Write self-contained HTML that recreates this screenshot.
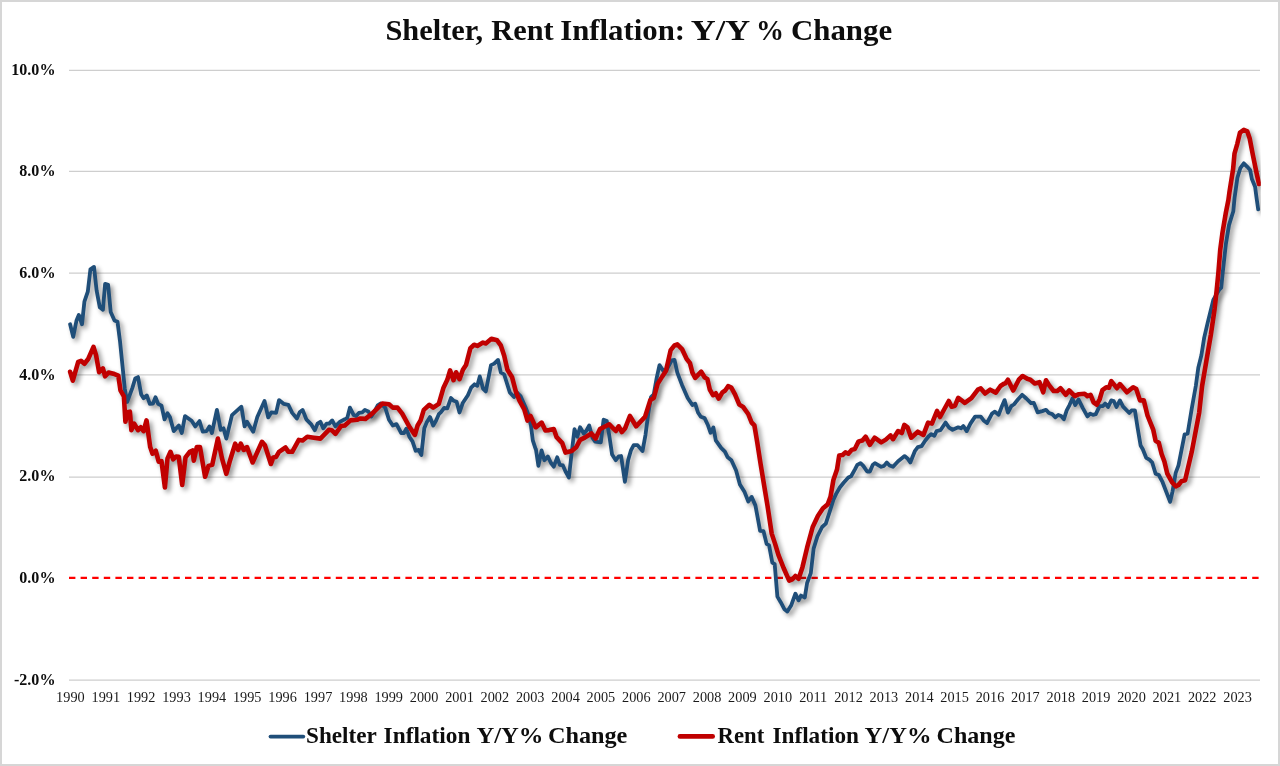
<!DOCTYPE html>
<html><head><meta charset="utf-8"><title>Shelter, Rent Inflation</title>
<style>
html,body{margin:0;padding:0;background:#fff;}
body{width:1280px;height:766px;overflow:hidden;position:relative;font-family:"Liberation Serif",serif;}
#frame{position:absolute;left:0;top:0;width:1276px;height:762px;border:2px solid #d6d6d6;background:#ffffff;}
svg{position:absolute;left:0;top:0;opacity:0.999;}
text{font-family:"Liberation Serif",serif;fill:#0d0d0d;}
.t{font-weight:bold;font-size:29.9px;}
.yl{font-weight:bold;font-size:17.4px;}
.xl{font-size:15.2px;fill:#1a1a1a;}
.lg{font-weight:bold;font-size:23.4px;}
</style></head><body>
<div id="frame"></div>
<svg width="1280" height="766" viewBox="0 0 1280 766">
<defs>
<filter id="sh" x="-5%" y="-5%" width="110%" height="110%">
<feGaussianBlur in="SourceAlpha" stdDeviation="2.5" result="b"/>
<feOffset in="b" dx="2.8" dy="2.8" result="o"/>
<feComponentTransfer in="o" result="s"><feFuncA type="linear" slope="0.42"/></feComponentTransfer>
</filter>
<clipPath id="cp"><rect x="60" y="50" width="1200.8" height="640"/></clipPath>
</defs>
<text class="t" x="385.48" y="40.1" textLength="97.60" lengthAdjust="spacingAndGlyphs">Shelter,</text>
<text class="t" x="491.30" y="40.1" textLength="62.35" lengthAdjust="spacingAndGlyphs">Rent</text>
<text class="t" x="560.17" y="40.1" textLength="124.94" lengthAdjust="spacingAndGlyphs">Inflation:</text>
<text class="t" x="690.80" y="40.1" textLength="59.42" lengthAdjust="spacingAndGlyphs">Y/Y</text>
<text class="t" x="755.99" y="40.1" textLength="27.98" lengthAdjust="spacingAndGlyphs">%</text>
<text class="t" x="790.97" y="40.1" textLength="101.21" lengthAdjust="spacingAndGlyphs">Change</text>
<line x1="69.0" y1="70.3" x2="1260.0" y2="70.3" stroke="#cecece" stroke-width="1.25"/>
<text class="yl" transform="translate(55.5 75.05) scale(0.925 1)" text-anchor="end">10.0%</text>
<line x1="69.0" y1="171.4" x2="1260.0" y2="171.4" stroke="#cecece" stroke-width="1.25"/>
<text class="yl" transform="translate(55.5 176.20) scale(0.925 1)" text-anchor="end">8.0%</text>
<line x1="69.0" y1="273.2" x2="1260.0" y2="273.2" stroke="#cecece" stroke-width="1.25"/>
<text class="yl" transform="translate(55.5 278.00) scale(0.925 1)" text-anchor="end">6.0%</text>
<line x1="69.0" y1="374.9" x2="1260.0" y2="374.9" stroke="#cecece" stroke-width="1.25"/>
<text class="yl" transform="translate(55.5 380.00) scale(0.925 1)" text-anchor="end">4.0%</text>
<line x1="69.0" y1="477.0" x2="1260.0" y2="477.0" stroke="#cecece" stroke-width="1.25"/>
<text class="yl" transform="translate(55.5 481.15) scale(0.925 1)" text-anchor="end">2.0%</text>
<line x1="69.0" y1="577.9" x2="1260.0" y2="577.9" stroke="#ff0000" stroke-width="2.1" stroke-dasharray="6.4 5.2"/>
<text class="yl" transform="translate(55.5 582.80) scale(0.925 1)" text-anchor="end">0.0%</text>
<line x1="69.0" y1="680.0" x2="1260.0" y2="680.0" stroke="#cecece" stroke-width="1.25"/>
<text class="yl" transform="translate(55.5 685.30) scale(0.925 1)" text-anchor="end">-2.0%</text>
<text class="xl" transform="translate(70.4 702.3) scale(0.94 1)" text-anchor="middle">1990</text>
<text class="xl" transform="translate(105.8 702.3) scale(0.94 1)" text-anchor="middle">1991</text>
<text class="xl" transform="translate(141.1 702.3) scale(0.94 1)" text-anchor="middle">1992</text>
<text class="xl" transform="translate(176.5 702.3) scale(0.94 1)" text-anchor="middle">1993</text>
<text class="xl" transform="translate(211.9 702.3) scale(0.94 1)" text-anchor="middle">1994</text>
<text class="xl" transform="translate(247.2 702.3) scale(0.94 1)" text-anchor="middle">1995</text>
<text class="xl" transform="translate(282.6 702.3) scale(0.94 1)" text-anchor="middle">1996</text>
<text class="xl" transform="translate(318.0 702.3) scale(0.94 1)" text-anchor="middle">1997</text>
<text class="xl" transform="translate(353.4 702.3) scale(0.94 1)" text-anchor="middle">1998</text>
<text class="xl" transform="translate(388.7 702.3) scale(0.94 1)" text-anchor="middle">1999</text>
<text class="xl" transform="translate(424.1 702.3) scale(0.94 1)" text-anchor="middle">2000</text>
<text class="xl" transform="translate(459.5 702.3) scale(0.94 1)" text-anchor="middle">2001</text>
<text class="xl" transform="translate(494.8 702.3) scale(0.94 1)" text-anchor="middle">2002</text>
<text class="xl" transform="translate(530.2 702.3) scale(0.94 1)" text-anchor="middle">2003</text>
<text class="xl" transform="translate(565.6 702.3) scale(0.94 1)" text-anchor="middle">2004</text>
<text class="xl" transform="translate(600.9 702.3) scale(0.94 1)" text-anchor="middle">2005</text>
<text class="xl" transform="translate(636.3 702.3) scale(0.94 1)" text-anchor="middle">2006</text>
<text class="xl" transform="translate(671.7 702.3) scale(0.94 1)" text-anchor="middle">2007</text>
<text class="xl" transform="translate(707.1 702.3) scale(0.94 1)" text-anchor="middle">2008</text>
<text class="xl" transform="translate(742.4 702.3) scale(0.94 1)" text-anchor="middle">2009</text>
<text class="xl" transform="translate(777.8 702.3) scale(0.94 1)" text-anchor="middle">2010</text>
<text class="xl" transform="translate(813.2 702.3) scale(0.94 1)" text-anchor="middle">2011</text>
<text class="xl" transform="translate(848.5 702.3) scale(0.94 1)" text-anchor="middle">2012</text>
<text class="xl" transform="translate(883.9 702.3) scale(0.94 1)" text-anchor="middle">2013</text>
<text class="xl" transform="translate(919.3 702.3) scale(0.94 1)" text-anchor="middle">2014</text>
<text class="xl" transform="translate(954.6 702.3) scale(0.94 1)" text-anchor="middle">2015</text>
<text class="xl" transform="translate(990.0 702.3) scale(0.94 1)" text-anchor="middle">2016</text>
<text class="xl" transform="translate(1025.4 702.3) scale(0.94 1)" text-anchor="middle">2017</text>
<text class="xl" transform="translate(1060.8 702.3) scale(0.94 1)" text-anchor="middle">2018</text>
<text class="xl" transform="translate(1096.1 702.3) scale(0.94 1)" text-anchor="middle">2019</text>
<text class="xl" transform="translate(1131.5 702.3) scale(0.94 1)" text-anchor="middle">2020</text>
<text class="xl" transform="translate(1166.9 702.3) scale(0.94 1)" text-anchor="middle">2021</text>
<text class="xl" transform="translate(1202.2 702.3) scale(0.94 1)" text-anchor="middle">2022</text>
<text class="xl" transform="translate(1237.6 702.3) scale(0.94 1)" text-anchor="middle">2023</text>
<g clip-path="url(#cp)">
<defs><path id="pb" d="M70.1 324.3 L73.2 336.9 L76.5 320.5 L78.8 314.9 L82.0 324.3 L84.4 301.7 L87.8 291.7 L90.4 269.4 L94.0 266.9 L96.6 290.4 L99.8 307.3 L102.9 309.8 L105.1 283.8 L108.1 284.8 L110.7 312.0 L114.5 320.5 L117.5 321.8 L120.1 342.1 L124.8 388.8 L127.1 402.0 L132.4 387.9 L135.2 378.5 L138.0 377.1 L141.2 394.4 L143.6 398.2 L146.8 395.4 L149.8 403.8 L153.0 403.5 L155.5 397.3 L158.1 403.8 L161.5 405.7 L164.5 419.3 L167.5 413.2 L169.9 417.0 L173.7 431.1 L178.8 425.5 L181.8 433.0 L185.0 416.1 L191.6 420.8 L195.3 426.4 L199.5 421.1 L202.8 431.7 L206.6 431.1 L209.4 426.4 L211.9 433.0 L216.9 409.9 L220.7 429.8 L223.5 428.3 L226.3 438.6 L232.0 415.1 L241.4 406.7 L244.6 426.4 L247.0 421.7 L253.2 431.7 L257.3 417.0 L264.5 401.0 L268.2 417.4 L271.4 412.3 L276.1 412.9 L279.0 400.1 L283.6 403.8 L288.3 404.8 L292.2 412.9 L296.9 418.5 L299.7 412.3 L302.6 409.9 L306.3 419.3 L311.0 424.1 L314.8 430.2 L317.6 423.6 L320.4 421.7 L323.2 428.3 L326.6 423.6 L329.2 423.6 L332.2 420.4 L335.4 426.4 L340.1 421.7 L344.8 419.3 L347.3 417.9 L349.9 407.6 L353.7 415.1 L356.1 416.1 L358.9 412.9 L362.3 412.3 L364.9 409.9 L368.3 411.4 L371.2 416.6 L374.0 412.3 L377.7 405.3 L380.5 403.5 L385.2 407.6 L389.0 419.8 L392.8 425.5 L396.5 424.1 L401.2 433.0 L404.0 433.0 L406.3 428.7 L409.3 436.7 L412.5 441.4 L415.7 450.8 L418.7 449.9 L421.3 455.0 L424.3 428.3 L426.6 422.6 L430.0 417.0 L433.2 425.5 L436.0 420.8 L438.8 414.2 L441.0 412.1 L444.1 408.0 L447.3 408.4 L451.0 398.0 L453.8 400.8 L456.6 401.8 L459.5 412.5 L462.9 402.7 L467.9 395.2 L471.1 387.7 L474.5 384.3 L477.3 385.8 L479.8 376.4 L483.0 388.6 L485.8 391.4 L491.0 365.1 L494.2 363.6 L498.0 359.9 L500.8 372.3 L504.2 374.5 L509.8 392.4 L514.0 397.1 L516.8 392.4 L520.5 396.1 L525.2 406.5 L528.1 414.0 L530.9 425.3 L532.8 440.3 L535.6 448.8 L536.0 449.8 L538.4 465.8 L541.6 450.4 L544.4 460.2 L547.8 456.4 L551.0 463.0 L553.8 466.7 L557.2 457.3 L559.8 464.9 L562.9 465.4 L566.0 472.4 L568.9 477.5 L571.7 452.6 L574.5 429.1 L577.3 436.7 L580.1 427.3 L583.9 433.8 L586.2 431.0 L589.2 425.4 L592.4 437.6 L595.2 441.7 L600.8 442.3 L603.6 419.7 L606.8 421.1 L609.3 435.7 L612.1 454.5 L615.8 460.2 L618.7 456.4 L621.1 456.0 L624.9 481.8 L628.1 460.2 L630.9 450.4 L633.7 445.1 L637.5 445.1 L642.5 451.1 L645.5 434.8 L648.2 414.0 L651.0 397.1 L653.8 394.3 L656.6 378.3 L659.5 365.1 L663.2 370.8 L666.6 369.8 L671.7 360.4 L674.5 359.9 L677.3 372.6 L682.0 384.9 L687.7 398.0 L692.4 405.0 L695.2 403.7 L698.0 412.5 L700.8 416.8 L704.6 418.1 L708.0 425.3 L710.6 432.8 L713.4 427.5 L715.8 440.3 L721.1 447.9 L724.9 451.7 L727.7 457.3 L731.4 460.2 L736.1 470.5 L739.9 484.6 L744.6 492.1 L748.3 501.5 L751.6 496.9 L755.4 505.4 L758.2 520.4 L760.1 530.8 L763.5 531.1 L766.6 543.9 L769.1 545.4 L772.3 562.7 L774.7 564.2 L777.4 596.6 L780.7 602.2 L784.5 609.3 L787.3 611.6 L791.1 605.6 L795.4 593.7 L798.6 600.3 L801.0 595.6 L804.8 597.5 L807.1 583.0 L810.8 573.1 L813.6 548.6 L817.4 536.4 L822.1 527.0 L825.8 523.6 L829.6 512.0 L833.4 499.7 L836.0 494.1 L839.8 487.5 L843.6 482.8 L848.3 477.5 L851.1 476.2 L854.8 469.6 L857.3 464.9 L860.5 463.1 L863.3 465.9 L867.1 471.5 L869.9 471.5 L872.7 464.9 L874.9 463.1 L881.2 466.8 L884.0 465.9 L886.8 462.5 L889.6 465.5 L893.0 466.8 L898.1 461.2 L904.6 456.1 L907.5 458.4 L910.3 462.5 L915.0 450.8 L917.8 447.1 L921.6 446.1 L925.3 440.5 L928.7 436.2 L931.3 434.1 L934.3 435.8 L936.6 431.1 L940.4 430.2 L945.6 422.6 L948.8 427.3 L952.6 429.8 L958.2 427.3 L961.0 428.3 L963.3 426.0 L966.7 431.1 L970.4 423.6 L975.1 416.6 L980.8 416.6 L983.6 420.4 L987.0 423.0 L992.0 413.6 L994.9 411.7 L998.6 414.7 L1001.4 407.6 L1004.6 400.1 L1007.9 412.6 L1011.3 406.1 L1014.1 404.2 L1017.9 399.5 L1022.2 394.8 L1026.3 398.5 L1031.0 403.2 L1033.8 402.9 L1037.6 412.3 L1042.3 411.1 L1046.0 409.8 L1048.9 413.0 L1052.2 414.1 L1055.4 417.3 L1058.3 414.9 L1061.1 416.0 L1063.9 419.2 L1066.7 410.4 L1069.5 405.1 L1072.4 398.5 L1075.2 405.1 L1078.6 399.5 L1082.7 407.9 L1087.4 416.4 L1090.2 413.6 L1093.0 414.9 L1095.8 414.1 L1099.6 406.1 L1103.0 406.1 L1105.2 403.6 L1108.1 407.0 L1111.3 400.4 L1113.7 401.0 L1116.5 407.0 L1119.9 400.4 L1123.1 406.6 L1129.3 413.0 L1131.6 410.4 L1134.9 410.4 L1137.6 427.7 L1140.6 445.5 L1142.8 449.3 L1146.2 457.8 L1149.4 459.6 L1152.2 462.5 L1155.6 473.7 L1158.8 475.0 L1162.6 482.2 L1170.1 501.9 L1172.5 491.6 L1175.7 472.8 L1178.5 465.3 L1184.6 434.3 L1187.6 433.7 L1191.7 408.9 L1195.8 386.0 L1198.3 367.7 L1201.4 355.2 L1204.2 337.6 L1207.7 322.6 L1213.3 300.0 L1219.0 290.0 L1221.2 287.7 L1222.7 272.7 L1225.9 243.9 L1229.0 225.1 L1233.3 211.3 L1234.6 197.4 L1237.4 177.7 L1240.3 168.2 L1243.8 163.3 L1247.3 166.8 L1250.1 169.9 L1251.9 179.1 L1255.1 186.8 L1256.5 197.4 L1258.2 209.4" fill="none" stroke="#1f4e79" stroke-width="3.8" stroke-linejoin="round" stroke-linecap="round"/>
<path id="pr" d="M70.1 371.8 L72.8 380.7 L78.2 361.9 L81.0 360.9 L84.4 363.7 L88.2 359.0 L93.5 346.8 L96.1 355.3 L99.1 372.2 L102.9 368.4 L105.1 376.3 L108.5 372.6 L114.5 374.1 L118.3 375.6 L120.5 390.3 L123.9 396.3 L125.4 421.7 L127.3 412.3 L129.9 411.7 L131.4 430.2 L134.2 423.6 L138.0 430.2 L140.8 427.3 L143.6 431.1 L146.5 420.4 L150.2 447.1 L152.5 453.7 L155.8 450.8 L158.7 461.7 L161.5 461.2 L164.9 487.5 L167.5 458.4 L170.5 451.8 L173.1 459.3 L176.1 456.5 L178.8 456.9 L182.2 485.0 L185.5 457.4 L189.7 451.8 L192.5 450.5 L193.8 460.6 L196.8 447.1 L200.0 447.1 L205.1 476.8 L208.5 465.9 L212.2 464.9 L217.9 438.6 L222.0 458.4 L226.3 473.8 L230.1 460.2 L235.2 443.7 L238.2 449.9 L240.8 443.7 L243.8 449.9 L247.0 447.1 L252.6 462.5 L262.0 441.8 L264.9 445.2 L270.9 464.0 L273.3 457.4 L276.1 456.9 L279.0 451.8 L285.5 447.5 L288.3 451.8 L292.2 451.8 L298.8 439.9 L302.6 440.5 L307.3 436.7 L313.8 437.7 L320.4 438.6 L328.9 429.8 L331.7 430.2 L335.4 433.9 L341.1 426.0 L344.8 425.5 L350.5 420.4 L357.1 419.8 L359.9 418.5 L365.5 418.9 L372.1 413.6 L382.4 403.5 L389.0 404.2 L392.8 407.6 L397.5 407.6 L402.2 413.6 L409.7 427.3 L414.9 434.9 L417.6 425.5 L420.6 420.4 L423.8 409.9 L429.4 404.8 L433.2 407.6 L438.8 403.8 L443.5 387.7 L447.3 379.8 L450.1 370.4 L453.5 380.2 L456.1 372.3 L459.5 379.2 L462.9 369.8 L466.0 365.1 L470.4 348.2 L474.1 344.8 L477.3 345.9 L483.0 342.6 L485.8 343.5 L491.4 338.8 L497.1 340.3 L500.8 345.4 L504.2 355.7 L507.4 369.8 L512.1 377.3 L515.8 391.4 L519.6 400.8 L524.3 409.3 L527.5 420.6 L530.5 415.9 L535.6 427.2 L536.0 427.3 L541.6 422.6 L545.4 430.5 L549.1 430.1 L553.8 429.1 L556.6 437.2 L562.3 443.2 L565.5 452.6 L571.7 451.1 L576.4 447.0 L580.1 439.9 L584.8 437.6 L591.4 433.5 L595.6 438.5 L599.9 429.1 L605.5 426.3 L609.3 424.4 L615.8 431.0 L618.7 426.3 L621.9 432.0 L625.2 428.2 L629.9 416.0 L636.1 426.3 L645.0 416.9 L650.4 399.9 L653.8 398.0 L657.6 383.9 L662.3 376.4 L666.0 370.8 L670.7 350.1 L674.5 345.4 L677.3 344.4 L682.0 349.1 L686.7 359.1 L689.9 362.9 L692.4 372.6 L695.2 377.9 L701.2 371.7 L704.6 377.3 L707.4 379.2 L709.8 389.6 L713.0 395.2 L715.8 393.3 L718.7 398.6 L722.4 392.4 L725.2 390.5 L728.1 386.2 L731.3 387.7 L735.0 394.3 L739.3 404.6 L743.1 406.9 L748.2 414.0 L751.6 422.5 L754.4 425.3 L757.2 442.2 L760.6 464.0 L767.6 506.3 L771.7 533.6 L775.1 543.9 L778.5 555.2 L783.6 568.0 L789.2 580.6 L792.4 579.3 L795.4 575.9 L798.6 578.7 L802.4 567.4 L807.1 547.7 L812.7 527.0 L818.0 515.7 L823.0 508.2 L827.7 504.4 L830.5 496.9 L833.4 480.0 L837.0 469.6 L839.2 455.5 L842.6 455.0 L845.4 452.3 L848.3 453.7 L851.6 449.9 L854.8 449.0 L858.6 441.4 L862.4 440.5 L865.6 436.7 L869.9 444.8 L874.6 437.7 L881.2 442.4 L885.8 439.6 L890.5 435.4 L893.0 439.2 L898.1 431.1 L901.8 433.0 L904.3 424.9 L907.5 427.3 L911.2 437.7 L917.8 431.7 L923.4 434.9 L928.1 422.6 L931.9 423.6 L937.0 411.0 L940.0 417.0 L948.8 401.0 L951.6 406.7 L955.0 405.7 L958.2 397.8 L964.8 402.9 L971.4 398.2 L977.9 389.7 L980.8 388.4 L985.1 393.5 L990.2 389.7 L995.8 392.6 L1000.5 386.0 L1004.3 383.5 L1005.3 383.5 L1007.9 379.7 L1013.2 390.5 L1018.8 379.7 L1022.6 376.0 L1027.3 378.8 L1030.4 379.7 L1034.8 383.5 L1039.5 382.2 L1043.2 392.3 L1046.0 380.3 L1049.2 385.4 L1053.6 391.0 L1057.3 391.0 L1060.5 388.2 L1065.8 394.8 L1069.2 390.5 L1074.8 396.1 L1078.9 394.2 L1084.6 393.8 L1087.4 396.1 L1090.6 394.8 L1093.6 402.3 L1096.8 404.7 L1099.6 399.5 L1102.4 390.1 L1106.2 387.3 L1109.0 387.8 L1111.3 381.1 L1116.9 388.2 L1119.9 384.1 L1126.9 392.3 L1133.1 387.3 L1136.3 389.1 L1140.0 400.4 L1143.8 400.4 L1147.5 415.5 L1153.2 429.6 L1155.6 440.8 L1158.8 442.7 L1161.6 454.0 L1164.4 461.5 L1167.3 473.7 L1172.0 482.2 L1175.7 486.3 L1178.5 485.0 L1181.4 481.3 L1185.1 480.3 L1191.7 452.1 L1199.2 412.6 L1202.1 386.0 L1206.5 360.2 L1210.8 335.1 L1214.6 308.8 L1216.7 290.0 L1218.4 272.7 L1220.2 250.1 L1222.5 232.6 L1225.9 212.5 L1228.4 200.0 L1229.5 191.8 L1233.1 169.2 L1234.5 153.7 L1237.3 143.8 L1240.0 132.6 L1243.8 129.9 L1247.3 131.4 L1249.7 138.5 L1252.9 155.1 L1256.5 172.7 L1259.0 184.0" fill="none" stroke="#c00000" stroke-width="4.6" stroke-linejoin="round" stroke-linecap="round"/></defs>
<use href="#pb" filter="url(#sh)"/>
<use href="#pr" filter="url(#sh)"/>
<use href="#pb"/>
<use href="#pr"/>
</g>
<line x1="270.5" y1="736.6" x2="303.3" y2="736.6" stroke="#1f4e79" stroke-width="3.8" stroke-linecap="round"/>
<text class="lg" x="306.01" y="742.6" textLength="70.77" lengthAdjust="spacingAndGlyphs">Shelter</text>
<text class="lg" x="383.60" y="742.6" textLength="86.81" lengthAdjust="spacingAndGlyphs">Inflation</text>
<text class="lg" x="476.40" y="742.6" textLength="67.06" lengthAdjust="spacingAndGlyphs">Y/Y%</text>
<text class="lg" x="547.96" y="742.6" textLength="79.43" lengthAdjust="spacingAndGlyphs">Change</text>
<line x1="679.9" y1="736.4" x2="712.7" y2="736.4" stroke="#c00000" stroke-width="4.6" stroke-linecap="round"/>
<text class="lg" x="717.60" y="742.6" textLength="46.60" lengthAdjust="spacingAndGlyphs">Rent</text>
<text class="lg" x="772.40" y="742.6" textLength="86.61" lengthAdjust="spacingAndGlyphs">Inflation</text>
<text class="lg" x="864.60" y="742.6" textLength="66.86" lengthAdjust="spacingAndGlyphs">Y/Y%</text>
<text class="lg" x="936.57" y="742.6" textLength="78.82" lengthAdjust="spacingAndGlyphs">Change</text>
</svg></body></html>
